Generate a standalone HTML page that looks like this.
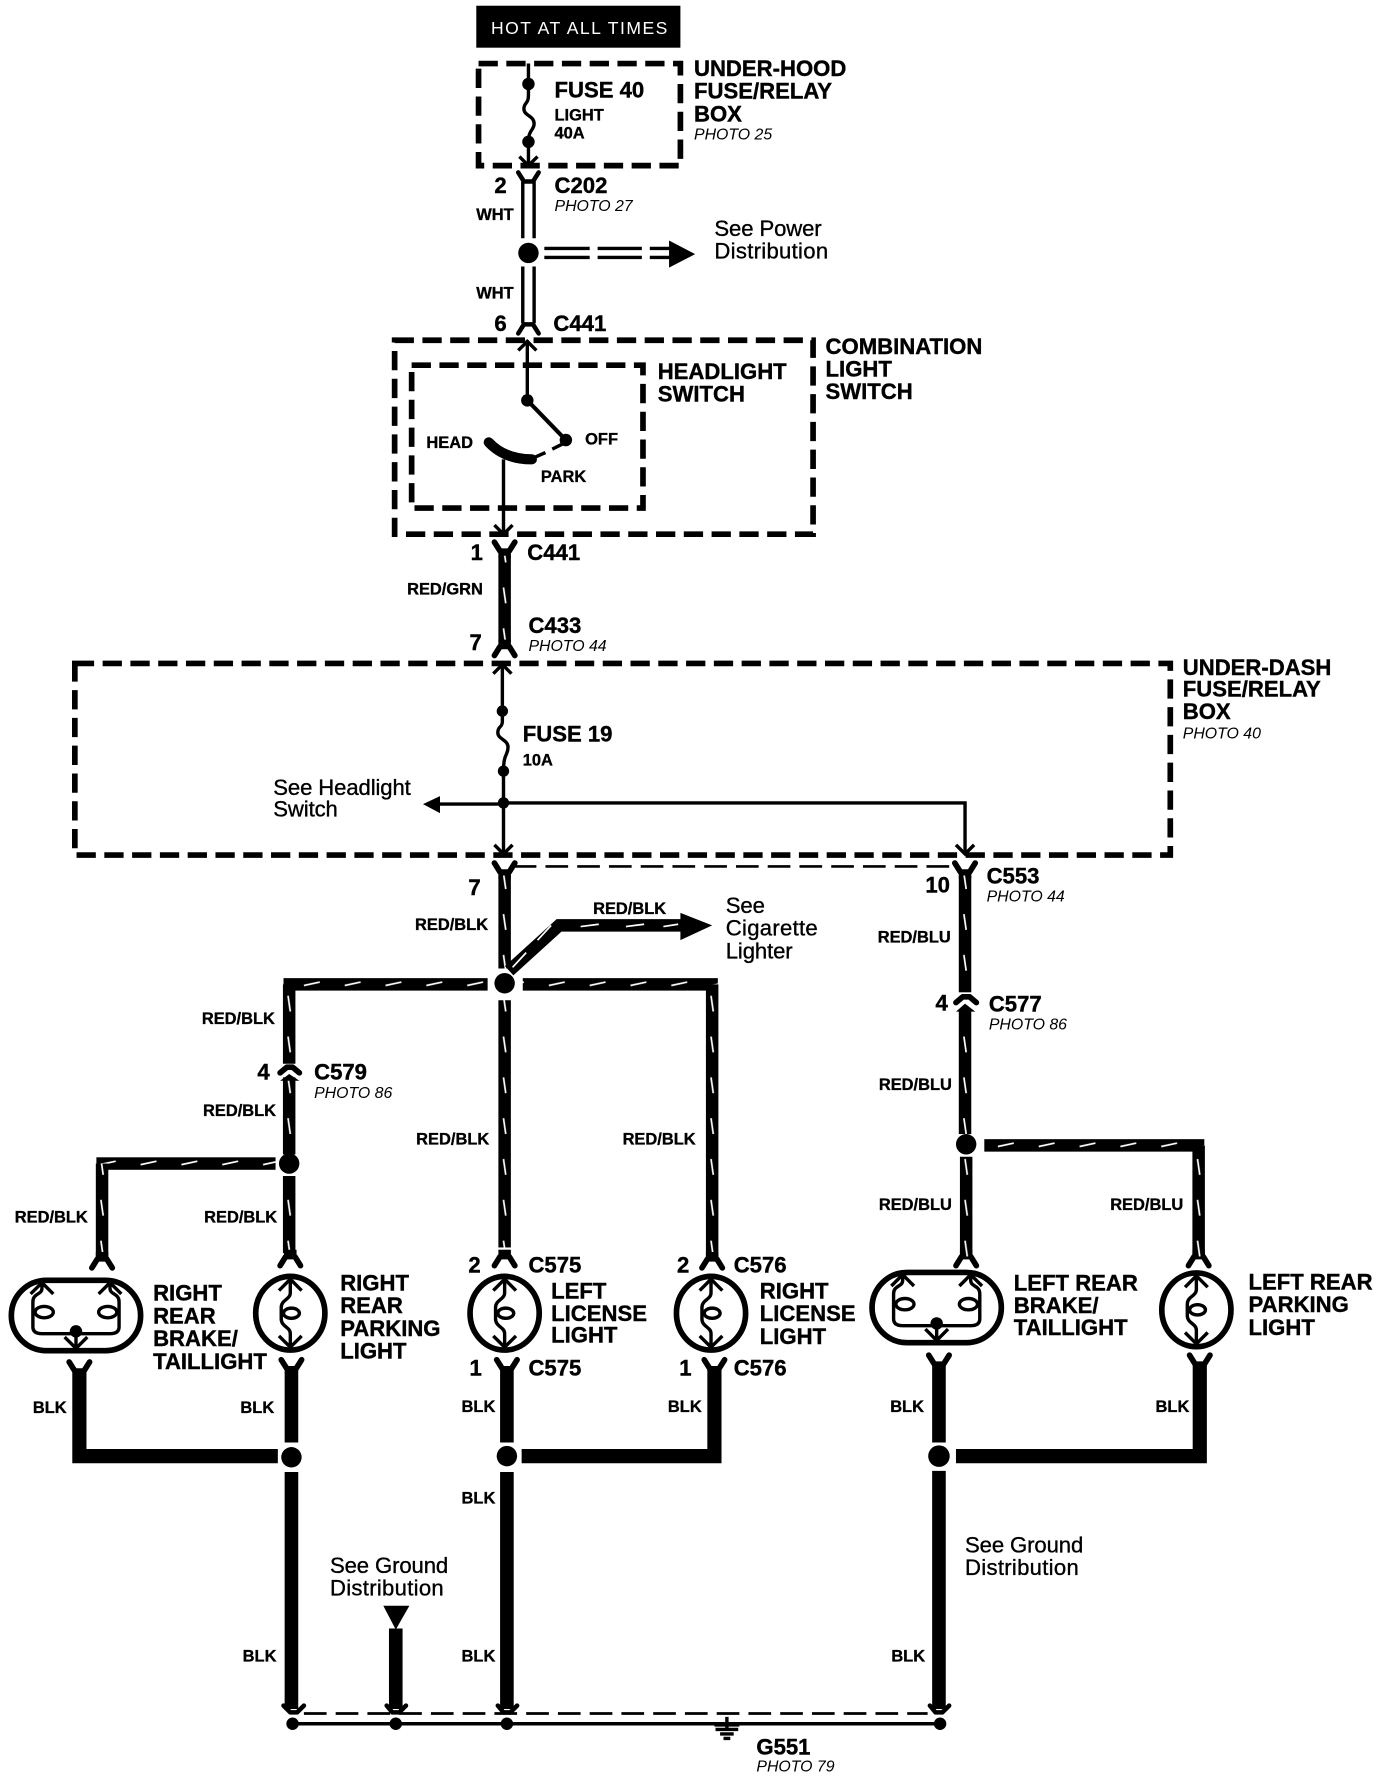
<!DOCTYPE html>
<html><head><meta charset="utf-8"><title>Wiring diagram</title>
<style>
html,body{margin:0;padding:0;background:#fff;width:1376px;height:1778px;overflow:hidden}
svg{display:block}
text{font-family:"Liberation Sans",sans-serif;fill:#000}
.b{font-weight:bold;font-size:19.5px;stroke:#000;stroke-width:.35}
.s{font-weight:bold;font-size:14.5px;stroke:#000;stroke-width:.3}
.r{font-size:19.5px;stroke:#000;stroke-width:.3;letter-spacing:-.1px}
.w{letter-spacing:.25px}
.i{font-style:italic;font-size:14px}
.d{fill:none;stroke:#000;stroke-width:5;stroke-dasharray:17 7.5}
.t{fill:none;stroke:#000;stroke-width:3}
.f{fill:none;stroke:#000;stroke-width:5;stroke-linecap:round;stroke-linejoin:round}
</style></head><body>
<svg xmlns="http://www.w3.org/2000/svg" width="1376" height="1778" viewBox="0 0 1213.4 1567.8">
<defs>
<pattern id="v" patternUnits="userSpaceOnUse" x="-7" y="6" width="14" height="36"><rect width="14" height="36" fill="#000"/><path d="M6,8 L8,22" stroke="#fff" stroke-width="1.5"/></pattern>
<pattern id="h" patternUnits="userSpaceOnUse" x="6" y="-7" width="36" height="14"><rect width="36" height="14" fill="#000"/><path d="M10,8 L24,5" stroke="#fff" stroke-width="1.5"/></pattern>
<g id="fd"><path class="f" d="M-9,-8 L-4,0 L4,0 L9,-8"/><rect x="-5.5" y="-1" width="11" height="7"/></g>
<g id="fu"><path class="f" d="M-9,8 L-4,0 L4,0 L9,8"/><rect x="-5.5" y="-6" width="11" height="7"/></g>
<g id="bulb">
<ellipse cx="0" cy="0" rx="30.5" ry="32.5" fill="#fff" stroke="#000" stroke-width="5"/>
<path d="M0,-30 L0,-18 C0,-12 -8,-12 -8,-5 L-8,5 C-8,12 0,12 0,18 L0,30" fill="none" stroke="#000" stroke-width="3"/>
<path d="M-10,-20 L0,-30 L10,-20 M-10,20 L0,30 L10,20" fill="none" stroke="#000" stroke-width="3"/>
<ellipse cx="1" cy="0" rx="7" ry="4.5" fill="#fff" stroke="#000" stroke-width="3"/>
</g>
<g id="oval">
<rect x="-57" y="-31" width="114" height="62" rx="31" ry="31" fill="#fff" stroke="#000" stroke-width="5"/>
<path d="M-30,-29 L-30,-24 C-30,-18 -38,-20 -38,-12 L-38,10 Q-38,16 -30,16 L30,16 Q38,16 38,10 L38,-12 C38,-20 30,-18 30,-24 L30,-29 M0,14 L0,29" fill="none" stroke="#000" stroke-width="3"/>
<path d="M-40,-19 L-30,-29 L-20,-19 M20,-19 L30,-29 L40,-19 M-10,19 L0,29 L10,19" fill="none" stroke="#000" stroke-width="3"/>
<ellipse cx="-28" cy="-3" rx="8" ry="5" fill="#fff" stroke="#000" stroke-width="3"/>
<ellipse cx="28" cy="-3" rx="8" ry="5" fill="#fff" stroke="#000" stroke-width="3"/>
<circle cx="0" cy="14" r="5.5"/>
</g>
<path id="chev" d="M-8,8 L0,0 L8,8" fill="none" stroke="#000" stroke-width="3"/>
<path id="chevd" d="M-8,-8 L0,0 L8,-8" fill="none" stroke="#000" stroke-width="3"/>
</defs>
<rect width="1214" height="1568" fill="#fff"/>

<!-- top -->
<rect x="420" y="5" width="180" height="37" fill="#000"/>
<text x="433" y="30" style="font-size:15.5px;fill:#fff;letter-spacing:1.3px">HOT AT ALL TIMES</text>
<rect class="d" x="422" y="56" width="178" height="90"/>
<path class="t" d="M466,56 L466,84 C466,92 462,90 462,96 C462,102 471,102 471,109 C471,115 466,114 466,125 L466,146"/>
<circle cx="466" cy="74" r="5.5"/><circle cx="466" cy="125" r="5.5"/>
<use href="#chevd" x="466" y="146"/>
<text class="b" x="489" y="86">FUSE 40</text>
<text class="s" x="489" y="106">LIGHT</text><text class="s" x="489" y="122">40A</text>
<text class="b" x="612" y="67">UNDER-HOOD</text><text class="b" x="612" y="87">FUSE/RELAY</text><text class="b" x="612" y="107">BOX</text>
<text class="i" x="612" y="123">PHOTO 25</text>

<path class="f" style="stroke-width:4" d="M457,152 L462,160 L470,160 L475,152"/>
<path class="t" d="M461,160 V210 M471,160 V210 M461,235 V285 M471,235 V285"/>
<text class="b" x="436" y="170">2</text><text class="s" x="420" y="194">WHT</text>
<text class="b" x="489" y="170">C202</text><text class="i" x="489" y="186">PHOTO 27</text>
<circle cx="466" cy="223" r="9"/>
<path d="M480,219 H520 M527,219 H566 M573,219 H592 M480,227 H520 M527,227 H566 M573,227 H592" stroke="#000" stroke-width="3"/>
<path d="M590,212 L613,224 L590,236 Z"/>
<text class="r" x="630" y="208">See Power</text><text class="r w" x="630" y="228">Distribution</text>
<text class="s" x="420" y="263">WHT</text>
<path class="f" style="stroke-width:4" d="M457,294 L462,286 L470,286 L475,294"/>
<text class="b" x="436" y="292">6</text><text class="b" x="488" y="292">C441</text>

<!-- combination -->
<rect class="d" x="348" y="300" width="369" height="171"/>
<rect class="d" x="363" y="322" width="204" height="126"/>
<path class="t" d="M465,300 V353"/><use href="#chev" x="465" y="301"/>
<circle cx="465" cy="353" r="5.5"/><path d="M465,353 L499,388" stroke="#000" stroke-width="3.6"/><circle cx="499" cy="388" r="5.5"/>
<path d="M497,391 L487,396 M481,399 L472,403" stroke="#000" stroke-width="3"/>
<path d="M431,390 Q445,405 469,405" fill="none" stroke="#000" stroke-width="9" stroke-linecap="round"/>
<path class="t" d="M444,405 V471"/><use href="#chevd" x="444" y="471"/>
<text class="s" x="376" y="395">HEAD</text><text class="s" x="516" y="392">OFF</text><text class="s" x="477" y="425">PARK</text>
<text class="b" x="580" y="334">HEADLIGHT</text><text class="b" x="580" y="354">SWITCH</text>
<text class="b" x="728" y="312">COMBINATION</text><text class="b" x="728" y="332">LIGHT</text><text class="b" x="728" y="352">SWITCH</text>

<text class="b" x="415" y="494">1</text><text class="b" x="465" y="494">C441</text>
<use href="#fd" x="445" y="486"/>
<g transform="translate(445,0)"><rect x="-5.5" y="490" width="11" height="76" fill="url(#v)"/></g>
<text class="s" x="359" y="524">RED/GRN</text>
<text class="b" x="466" y="558">C433</text><text class="i" x="466" y="574">PHOTO 44</text><text class="b" x="414" y="573">7</text>
<use href="#fu" x="445" y="570"/>

<!-- under dash -->
<rect class="d" x="66" y="585" width="966" height="169"/>
<path class="t" d="M443,585 V627 L443,636 C443,642 439,640 439,646 C439,652 448,652 448,659 C448,666 444,664 444,680 V752"/>
<use href="#chev" x="443" y="586"/>
<circle cx="443" cy="627" r="5"/><circle cx="444" cy="680" r="5"/><circle cx="444" cy="708" r="5"/>
<use href="#chevd" x="444" y="753"/>
<text class="b" x="461" y="654">FUSE 19</text><text class="s" x="461" y="675">10A</text>
<text class="r" x="241" y="701">See Headlight</text><text class="r" x="241" y="720">Switch</text>
<path class="t" d="M444,709 H385"/><path d="M373,709 L388,702 L388,717 Z"/>
<path class="t" d="M444,708 H851 V752"/><use href="#chevd" x="851" y="753"/>
<text class="b" x="1043" y="595">UNDER-DASH</text><text class="b" x="1043" y="614">FUSE/RELAY</text><text class="b" x="1043" y="634">BOX</text>
<text class="i" x="1043" y="651">PHOTO 40</text>

<path d="M453,764 H843" stroke="#000" stroke-width="2.4" stroke-dasharray="20 8"/>
<use href="#fd" x="445" y="769"/><use href="#fd" x="851" y="769"/>
<text class="b" x="413" y="789">7</text><text class="s" x="366" y="820">RED/BLK</text>

<!-- red/blk network -->
<g transform="translate(445,0)"><rect x="-5.5" y="772" width="11" height="82" fill="url(#v)"/><rect x="-5.5" y="882" width="11" height="218" fill="url(#v)"/></g>
<path d="M449,856 L493,816 H602" fill="none" stroke="#000" stroke-width="11"/>
<path d="M452,853 L464,840 M474,829 L486,816 M512,817 L528,815 M552,817 L568,815 M585,817 L598,815" stroke="#fff" stroke-width="1.5" fill="none"/>
<path d="M600,805 L628,816 L600,829 Z"/>
<text class="s" x="523" y="806">RED/BLK</text>
<text class="r" x="640" y="805">See</text><text class="r w" x="640" y="825">Cigarette</text><text class="r" x="640" y="845">Lighter</text>
<g transform="translate(0,868)"><rect x="250" y="-5.5" width="180" height="11" fill="url(#h)"/><rect x="461" y="-5.5" width="172" height="11" fill="url(#h)"/></g>
<circle cx="445" cy="867" r="9"/>
<g transform="translate(255,0)"><rect x="-5.5" y="868" width="11" height="70" fill="url(#v)"/><rect x="-5.5" y="950" width="11" height="68" fill="url(#v)"/><rect x="-5.5" y="1037" width="11" height="68" fill="url(#v)"/></g>
<g transform="translate(628,0)"><rect x="-5.5" y="868" width="11" height="240" fill="url(#v)"/></g>
<text class="s" x="178" y="903">RED/BLK</text><text class="b" x="227" y="952">4</text>
<path class="f" d="M247,946 L253,941 L258,941 L264,946"/>
<path d="M247,953 L255,947 L264,953 Z"/>
<text class="b" x="277" y="952">C579</text><text class="i" x="277" y="968">PHOTO 86</text>
<text class="s" x="179" y="984">RED/BLK</text>
<circle cx="255" cy="1026" r="9"/>
<g transform="translate(0,1026)"><rect x="85" y="-5.5" width="158" height="11" fill="url(#h)"/></g>
<g transform="translate(90,0)"><rect x="-5.5" y="1026" width="11" height="82" fill="url(#v)"/></g>
<text class="s" x="180" y="1078">RED/BLK</text><text class="s" x="13" y="1078">RED/BLK</text>
<text class="s" x="367" y="1009">RED/BLK</text><text class="s" x="549" y="1009">RED/BLK</text>

<!-- connectors above bulbs -->
<use href="#fu" x="90" y="1110"/><use href="#fu" x="256" y="1108"/><use href="#fu" x="445" y="1108"/><use href="#fu" x="628" y="1110"/>
<use href="#fu" x="852" y="1108"/><use href="#fu" x="1057" y="1108"/>
<text class="b" x="413" y="1122">2</text><text class="b" x="466" y="1122">C575</text>
<text class="b" x="597" y="1122">2</text><text class="b" x="647" y="1122">C576</text>

<!-- bulbs -->
<use href="#oval" x="67" y="1160"/><use href="#bulb" x="256" y="1158"/><use href="#bulb" x="445" y="1158"/><use href="#bulb" x="627" y="1158"/>
<use href="#oval" x="826" y="1153"/><use href="#bulb" x="1055" y="1155"/>
<text class="b" x="135" y="1147">RIGHT</text><text class="b" x="135" y="1167">REAR</text><text class="b" x="135" y="1187">BRAKE/</text><text class="b" x="135" y="1207">TAILLIGHT</text>
<text class="b" x="300" y="1138">RIGHT</text><text class="b" x="300" y="1158">REAR</text><text class="b" x="300" y="1178">PARKING</text><text class="b" x="300" y="1198">LIGHT</text>
<text class="b" x="486" y="1145">LEFT</text><text class="b" x="486" y="1165">LICENSE</text><text class="b" x="486" y="1184">LIGHT</text>
<text class="b" x="670" y="1145">RIGHT</text><text class="b" x="670" y="1165">LICENSE</text><text class="b" x="670" y="1185">LIGHT</text>
<text class="b" x="894" y="1138">LEFT REAR</text><text class="b" x="894" y="1158">BRAKE/</text><text class="b" x="894" y="1177">TAILLIGHT</text>
<text class="b" x="1101" y="1137">LEFT REAR</text><text class="b" x="1101" y="1157">PARKING</text><text class="b" x="1101" y="1177">LIGHT</text>

<!-- red/blu -->
<text class="b" x="816" y="787">10</text><text class="b" x="870" y="779">C553</text><text class="i" x="870" y="795">PHOTO 44</text>
<text class="s" x="774" y="831">RED/BLU</text>
<g transform="translate(851,0)"><rect x="-5.5" y="772" width="11" height="103" fill="url(#v)"/><rect x="-5.5" y="890" width="11" height="110" fill="url(#v)"/></g>
<path class="f" d="M843,884 L849,879 L855,879 L861,884"/><path d="M843,892 L851,885 L860,892 Z"/>
<text class="b" x="825" y="891">4</text><text class="b" x="872" y="892">C577</text><text class="i" x="872" y="908">PHOTO 86</text>
<text class="s" x="775" y="961">RED/BLU</text>
<circle cx="852" cy="1009" r="9"/>
<g transform="translate(852,0)"><rect x="-5.5" y="1020" width="11" height="88" fill="url(#v)"/></g>
<g transform="translate(0,1010)"><rect x="868" y="-5.5" width="194" height="11" fill="url(#h)"/></g>
<g transform="translate(1057,0)"><rect x="-5.5" y="1010" width="11" height="98" fill="url(#v)"/></g>
<text class="s" x="775" y="1067">RED/BLU</text><text class="s" x="979" y="1067">RED/BLU</text>

<!-- BLK -->
<use href="#fd" x="70" y="1209"/><use href="#fd" x="257" y="1207"/><use href="#fd" x="447" y="1207"/><use href="#fd" x="630" y="1207"/><use href="#fd" x="828" y="1203"/><use href="#fd" x="1058" y="1203"/>
<path d="M70,1210 V1284 H245" fill="none" stroke="#000" stroke-width="12.5"/>
<path d="M257,1207 V1272 M257,1298 V1507 M447,1207 V1272 M447,1298 V1507 M828,1203 V1272 M828,1297 V1507 M349,1436 V1507" fill="none" stroke="#000" stroke-width="12"/>
<path d="M460,1284 H630 V1207 M843,1284 H1058 V1203" fill="none" stroke="#000" stroke-width="12.5"/>
<circle cx="257" cy="1285" r="9"/><circle cx="447" cy="1284" r="9"/><circle cx="828" cy="1284" r="9.5"/>
<text class="s" x="29" y="1246">BLK</text><text class="s" x="212" y="1246">BLK</text><text class="s" x="407" y="1245">BLK</text><text class="s" x="589" y="1245">BLK</text><text class="s" x="785" y="1245">BLK</text><text class="s" x="1019" y="1245">BLK</text>
<text class="s" x="407" y="1326">BLK</text><text class="s" x="214" y="1465">BLK</text><text class="s" x="407" y="1465">BLK</text><text class="s" x="786" y="1465">BLK</text>
<text class="b" x="414" y="1213">1</text><text class="b" x="466" y="1213">C575</text><text class="b" x="599" y="1213">1</text><text class="b" x="647" y="1213">C576</text>
<text class="r" x="851" y="1369">See Ground</text><text class="r w" x="851" y="1389">Distribution</text>
<text class="r" x="291" y="1387">See Ground</text><text class="r w" x="291" y="1407">Distribution</text>
<path d="M338,1416 H361 L349,1437 Z"/>

<!-- ground -->
<path class="f" style="stroke-width:4" d="M250,1504 L256,1510 L262,1510 L268,1504 M341,1504 L346,1510 L352,1510 L358,1504 M439,1504 L444,1510 L450,1510 L456,1504 M820,1504 L825,1510 L831,1510 L837,1504"/>
<path d="M268,1511 H818" stroke="#000" stroke-width="2.4" stroke-dasharray="20 8"/>
<path class="t" d="M258,1520 H829"/>
<circle cx="258" cy="1520" r="5.5"/><circle cx="349" cy="1520" r="5.5"/><circle cx="447" cy="1520" r="5.5"/><circle cx="829" cy="1520" r="5.5"/>
<path d="M641,1514 V1526 M630,1521 H652 M631,1525 H651 M635,1529 H647 M638,1533 H644" stroke="#000" stroke-width="3"/>
<text class="b" x="667" y="1547">G551</text><text class="i" x="667" y="1562">PHOTO 79</text>
</svg>
</body></html>
